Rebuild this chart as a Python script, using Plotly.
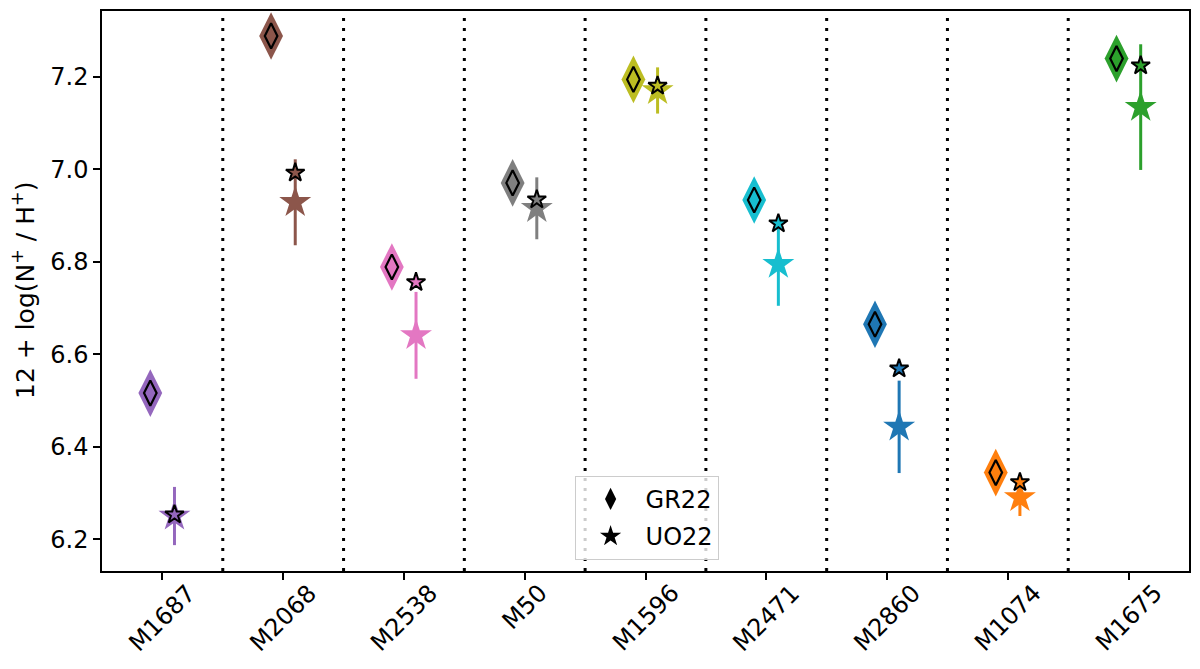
import plotly.graph_objects as go

# 区域名称与颜色
regions = ['M1687', 'M2068', 'M2538', 'M50', 'M1596', 'M2471', 'M2860', 'M1074', 'M1675']
colors = ['#9467bd', '#8c564b', '#e377c2', '#7f7f7f', '#bcbd22', '#17becf', '#1f77b4', '#ff7f0e', '#2ca02c']

# GR22 丰度
gr22 = [6.516, 7.289, 6.789, 6.971, 7.195, 6.934, 6.665, 6.344, 7.240]
# UO22 文献值
uo22 = [6.253, 6.993, 6.756, 6.935, 7.181, 6.883, 6.569, 6.323, 7.225]
# UO22 重新计算值及误差
uo22_calc = [6.250, 6.929, 6.641, 6.916, 7.171, 6.795, 6.443, 6.290, 7.135]
uo22_err = [0.063, 0.093, 0.094, 0.067, 0.050, 0.090, 0.100, 0.040, 0.136]

y_ticks = [6.2, 6.4, 6.6, 6.8, 7.0, 7.2]

font_name = 'DejaVu Sans'
offset = 0.1  # 两组数据的水平错开量

fig = go.Figure()

for i in range(len(regions)):
    c = colors[i]
    # 大菱形
    fig.add_trace(go.Scatter(
        x=[i - offset], y=[gr22[i]], mode='markers',
        marker=dict(symbol='diamond-tall', size=34, color=c, line_width=0),
        showlegend=False, hoverinfo='skip'))
    # 内部小菱形
    fig.add_trace(go.Scatter(
        x=[i - offset], y=[gr22[i]], mode='markers',
        marker=dict(symbol='diamond-tall', size=18, color=c, line=dict(color='black', width=2.2)),
        showlegend=False, hoverinfo='skip'))
    # 大星形 + 误差棒
    fig.add_trace(go.Scatter(
        x=[i + offset], y=[uo22_calc[i]], mode='markers',
        marker=dict(symbol='star', size=24, color=c, line_width=0),
        error_y=dict(type='data', array=[uo22_err[i]], color=c, thickness=3, width=0),
        showlegend=False, hoverinfo='skip'))
    # 小星形
    fig.add_trace(go.Scatter(
        x=[i + offset], y=[uo22[i]], mode='markers',
        marker=dict(symbol='star', size=14, color=c, line=dict(color='black', width=2)),
        showlegend=False, hoverinfo='skip'))

    # x轴标签（旋转45度，居中于刻度）
    fig.add_annotation(x=i, y=0, xref='x', yref='paper', text=regions[i],
                       textangle=-45, showarrow=False, xanchor='center', yanchor='top',
                       yshift=-5, font=dict(size=24))

# y轴标题
fig.add_annotation(x=0, y=0.5, xref='paper', yref='paper',
                   text='12 + log(N<sup>+</sup> / H<sup>+</sup>)',
                   textangle=-90, showarrow=False, xanchor='center', yanchor='middle',
                   xshift=-79, font=dict(size=25))

# 图例
fig.add_trace(go.Scatter(
    x=[None], y=[None], mode='markers', name='GR22', legendgroup='gr22',
    marker=dict(symbol='diamond-tall', size=22, color='black')))
fig.add_trace(go.Scatter(
    x=[None], y=[None], mode='markers', name='UO22', legendgroup='uo22',
    marker=dict(symbol='star', size=16, color='black')))

# 分隔虚线
for i in range(len(regions) - 1):
    fig.add_shape(type='line', xref='x', yref='paper', x0=i + 0.5, x1=i + 0.5, y0=0, y1=1,
                  line=dict(color='black', width=3, dash='3px,7px'), layer='below')

fig.update_layout(
    width=1184, height=653,
    plot_bgcolor='white', paper_bgcolor='white',
    margin=dict(l=94, r=2, t=1, b=90),
    font=dict(family=font_name, size=24, color='black'),
    legend=dict(
        x=0.501, y=0.02, xanchor='center', yanchor='bottom',
        bgcolor='rgba(255,255,255,0.8)', bordercolor='#cccccc', borderwidth=1,
        font=dict(size=24), itemwidth=60, tracegroupgap=3,
    ),
    xaxis=dict(
        range=[-0.5, 8.5], tickvals=list(range(len(regions))), showticklabels=False,
        showgrid=False, zeroline=False,
        showline=True, linecolor='black', linewidth=1.5, mirror=True,
        ticks='outside', ticklen=7, tickwidth=1.5, tickcolor='black',
    ),
    yaxis=dict(
        range=[6.131, 7.343], tickvals=y_ticks, tickformat='.1f',
        showgrid=False, zeroline=False,
        showline=True, linecolor='black', linewidth=1.5, mirror=True,
        ticks='outside', ticklen=7, tickwidth=1.5, tickcolor='black',
        tickfont=dict(size=24),
    ),
)

fig.write_html('out.html')
